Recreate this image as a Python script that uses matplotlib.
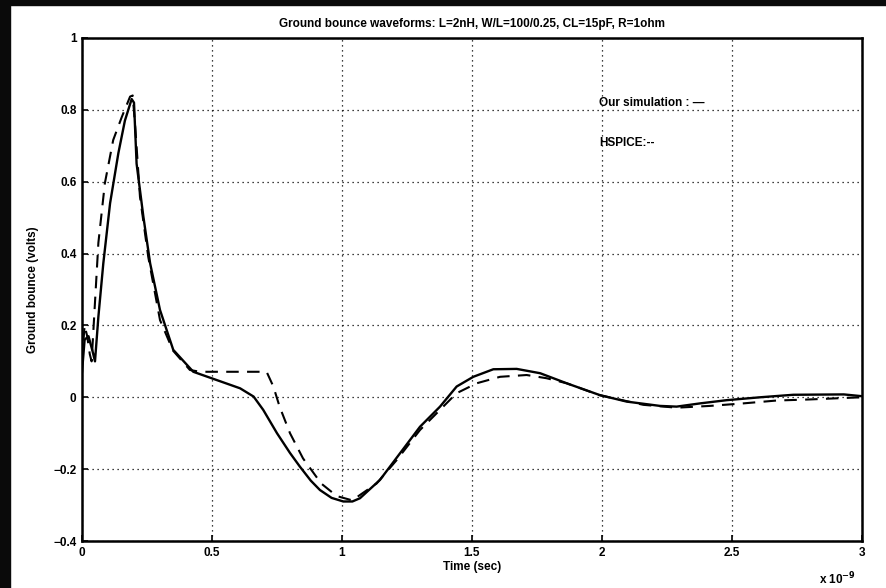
import matplotlib
matplotlib.use("Agg")
import matplotlib.pyplot as plt
from matplotlib.patches import Rectangle

# time axis in units of 1e-9 s
t_sim = [0, 0.01, 0.025, 0.04, 0.05, 0.063, 0.082, 0.108, 0.14, 0.165,
         0.191, 0.2, 0.21, 0.236, 0.262, 0.3, 0.351, 0.428, 0.518, 0.608,
         0.66, 0.697, 0.75, 0.8, 0.838, 0.88, 0.915, 0.96, 1.005, 1.04, 1.069,
         1.146, 1.223, 1.3, 1.377, 1.441, 1.505, 1.582, 1.672, 1.762, 1.864,
         1.992, 2.095, 2.223, 2.287, 2.377, 2.48, 2.608, 2.736, 2.93, 3.0]
v_sim = [0.07, 0.16, 0.17, 0.13, 0.10, 0.224, 0.373, 0.54, 0.68, 0.77,
         0.83, 0.82, 0.65, 0.503, 0.373, 0.243, 0.132, 0.071, 0.048, 0.025,
         0.002, -0.035, -0.1, -0.155, -0.193, -0.232, -0.258, -0.28, -0.29, -0.29, -0.281,
         -0.23, -0.156, -0.082, -0.026, 0.03, 0.057, 0.078, 0.079, 0.067, 0.039,
         0.006, -0.012, -0.024, -0.026, -0.017, -0.008, 0.0, 0.007, 0.008, 0.003]

t_hsp = [0, 0.01, 0.02, 0.03, 0.037, 0.063, 0.088, 0.12, 0.153, 0.185,
         0.195, 0.205, 0.223, 0.255, 0.3, 0.35, 0.415, 0.454, 0.6, 0.71,
         0.736, 0.76, 0.8, 0.85, 0.92, 0.98, 1.04, 1.069, 1.133, 1.21,
         1.3, 1.377, 1.44, 1.518, 1.608, 1.71, 1.787, 1.864, 1.99, 2.159,
         2.287, 2.415, 2.543, 2.672, 2.8, 2.93, 3.0]
v_hsp = [0.1, 0.2, 0.17, 0.12, 0.1, 0.43, 0.596, 0.716, 0.78, 0.837,
         0.84, 0.75, 0.558, 0.39, 0.215, 0.13, 0.076, 0.071, 0.071, 0.071,
         0.03, -0.026, -0.1, -0.17, -0.24, -0.275, -0.287, -0.272, -0.24, -0.175,
         -0.091, -0.035, 0.011, 0.039, 0.057, 0.062, 0.053, 0.039, 0.006, -0.021,
         -0.029, -0.024, -0.017, -0.009, -0.006, -0.002, 0.0]

x_ticks = [0, 0.5, 1, 1.5, 2, 2.5, 3]
x_labels = ["0", "0.5", "1", "1.5", "2", "2.5", "3"]
y_ticks = [-0.4, -0.2, 0, 0.2, 0.4, 0.6, 0.8, 1]
y_labels = ["\u22120.4", "\u22120.2", "0", "0.2", "0.4", "0.6", "0.8", "1"]

plt.rcParams["font.family"] = ["Liberation Sans", "DejaVu Sans"]
plt.rcParams["font.weight"] = "bold"

fig = plt.figure(figsize=(8.86, 5.88), dpi=100, facecolor="white")
# dark frame strips on the left and top of the original screenshot
fig.patches.append(Rectangle((0, 0), 10 / 886, 1, transform=fig.transFigure,
                             color="#0a0a0a", zorder=0))
fig.patches.append(Rectangle((0, 1 - 5 / 588), 1, 5 / 588, transform=fig.transFigure,
                             color="#0a0a0a", zorder=0))

ax = fig.add_axes([82 / 886, 1 - 541 / 588, 780 / 886, 503 / 588])
ax.plot(t_sim, v_sim, color="black", lw=1.7, solid_joinstyle="round")
ax.plot(t_hsp, v_hsp, color="black", lw=1.5, dashes=(6, 4))

ax.set_xlim(0, 3)
ax.set_ylim(-0.4, 1)
ax.set_xticks(x_ticks)
ax.set_xticklabels(x_labels, fontsize=8.5, fontweight="bold")
ax.set_yticks(y_ticks)
ax.set_yticklabels(y_labels, fontsize=8.5, fontweight="bold")
ax.tick_params(direction="in", length=4, width=1.2, pad=4)
ax.grid(True, color="black", linestyle=(0, (1, 3)), linewidth=0.9)
for sp in ax.spines.values():
    sp.set_linewidth(1.8)

ax.set_title("Ground bounce waveforms: L=2nH, W/L=100/0.25, CL=15pF, R=1ohm",
             fontsize=8.5, fontweight="bold", pad=8)
ax.set_xlabel("Time (sec)", fontsize=8.5, fontweight="bold", labelpad=2)
ax.set_ylabel("Ground bounce (volts)", fontsize=8.5, fontweight="bold", labelpad=10)

ax.text(1.99, 0.819, "Our simulation : \u2014", fontsize=8.5, fontweight="bold",
        va="center", ha="left")
ax.text(1.99, 0.708, "HSPICE:--", fontsize=8.5, fontweight="bold",
        va="center", ha="left")
ax.text(0.945, -0.075, r"x 10$^{-9}$", transform=ax.transAxes, fontsize=8.5,
        fontweight="bold", ha="left", va="center")

fig.savefig("out.png", dpi=100, facecolor="white")
